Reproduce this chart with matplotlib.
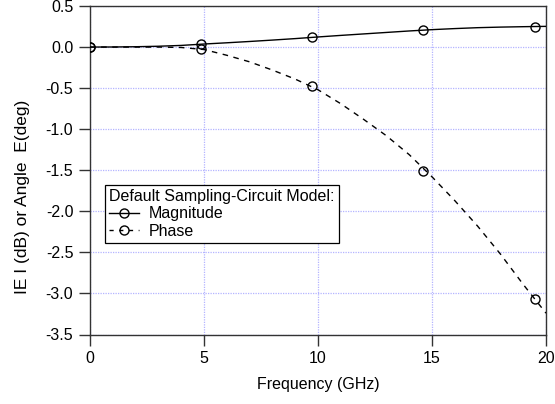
import matplotlib
matplotlib.use("Agg")
import matplotlib.pyplot as plt

plt.rcParams['font.family'] = ['Liberation Sans', 'DejaVu Sans']

# Curve samples
freq_curve = [0, 1, 2, 3, 4, 5, 6, 7, 8, 9, 10, 11, 12, 13, 14, 15, 16, 17, 18, 19, 20]
mag_curve = [0.0, 0.001, 0.004, 0.01, 0.02, 0.037, 0.052, 0.068, 0.085, 0.103, 0.123, 0.142,
             0.16, 0.178, 0.196, 0.212, 0.225, 0.236, 0.243, 0.248, 0.252]
phase_curve = [0.0, 0.0, 0.0, 0.0, -0.005, -0.03, -0.1, -0.18, -0.28, -0.39, -0.52, -0.69,
               -0.88, -1.08, -1.31, -1.58, -1.87, -2.18, -2.52, -2.89, -3.24]

# Marker points
freq_marks = [0, 4.87, 9.74, 14.6, 19.5]
mag_marks = [0.0, 0.035, 0.125, 0.21, 0.25]
phase_marks = [0.0, -0.02, -0.48, -1.51, -3.07]

xticks = [0, 5, 10, 15, 20]
yticks = [0.5, 0.0, -0.5, -1.0, -1.5, -2.0, -2.5, -3.0, -3.5]

fig = plt.figure(figsize=(5.55, 4.04), dpi=100)
ax = fig.add_axes([90 / 555, 1 - 334.5 / 404, 456 / 555, 328.5 / 404])

grid_color = '#b4b4ff'
ax.grid(True, color=grid_color, linestyle=(0, (1, 1)), linewidth=0.9)
ax.set_axisbelow(True)

ax.plot(freq_curve, mag_curve, color='black', lw=1.0, zorder=3)
ax.plot(freq_curve, phase_curve, color='black', lw=1.0, ls=(0, (4, 4)), zorder=3)
ax.plot(freq_marks, mag_marks, ls='none', marker='o', ms=6.5, mfc='none', mec='black', mew=1.0, zorder=4)
ax.plot(freq_marks, phase_marks, ls='none', marker='o', ms=6.5, mfc='none', mec='black', mew=1.0, zorder=4)

# Legend handles
h1, = ax.plot([], [], color='black', lw=1.0, marker='o', ms=6.5, mfc='none', mec='black')
h2, = ax.plot([], [], color='black', lw=1.0, ls=(0, (3, 4)), marker='o', ms=6.5, mfc='none', mec='black')
leg = ax.legend([h1, h2], ['Magnitude', 'Phase'], title='Default Sampling-Circuit Model:',
                loc='lower left', bbox_to_anchor=(0.033, 0.28), alignment='left',
                fancybox=False, framealpha=1, edgecolor='black', fontsize=11.5,
                title_fontsize=11.5, handlelength=1.9, handletextpad=0.6,
                borderpad=0.25, labelspacing=0.15, borderaxespad=0)
leg.get_frame().set_linewidth(0.9)

ax.set_xlim(0, 20)
ax.set_ylim(-3.5, 0.5)
ax.set_xticks(xticks)
ax.set_yticks(yticks)
ax.set_yticklabels([f"{v:.1f}" for v in yticks])
ax.tick_params(direction='out', length=8, width=1.0, color='#333333', labelsize=11.5, pad=4)
for s in ax.spines.values():
    s.set_color('#333333')
    s.set_linewidth(1.0)

ax.set_xlabel('Frequency (GHz)', fontsize=11.5, labelpad=8)
ax.set_ylabel('IE I (dB) or Angle  E(deg)', fontsize=12.5)
ax.yaxis.set_label_coords(-0.132, 0.42)

fig.savefig('out.png', dpi=100)
